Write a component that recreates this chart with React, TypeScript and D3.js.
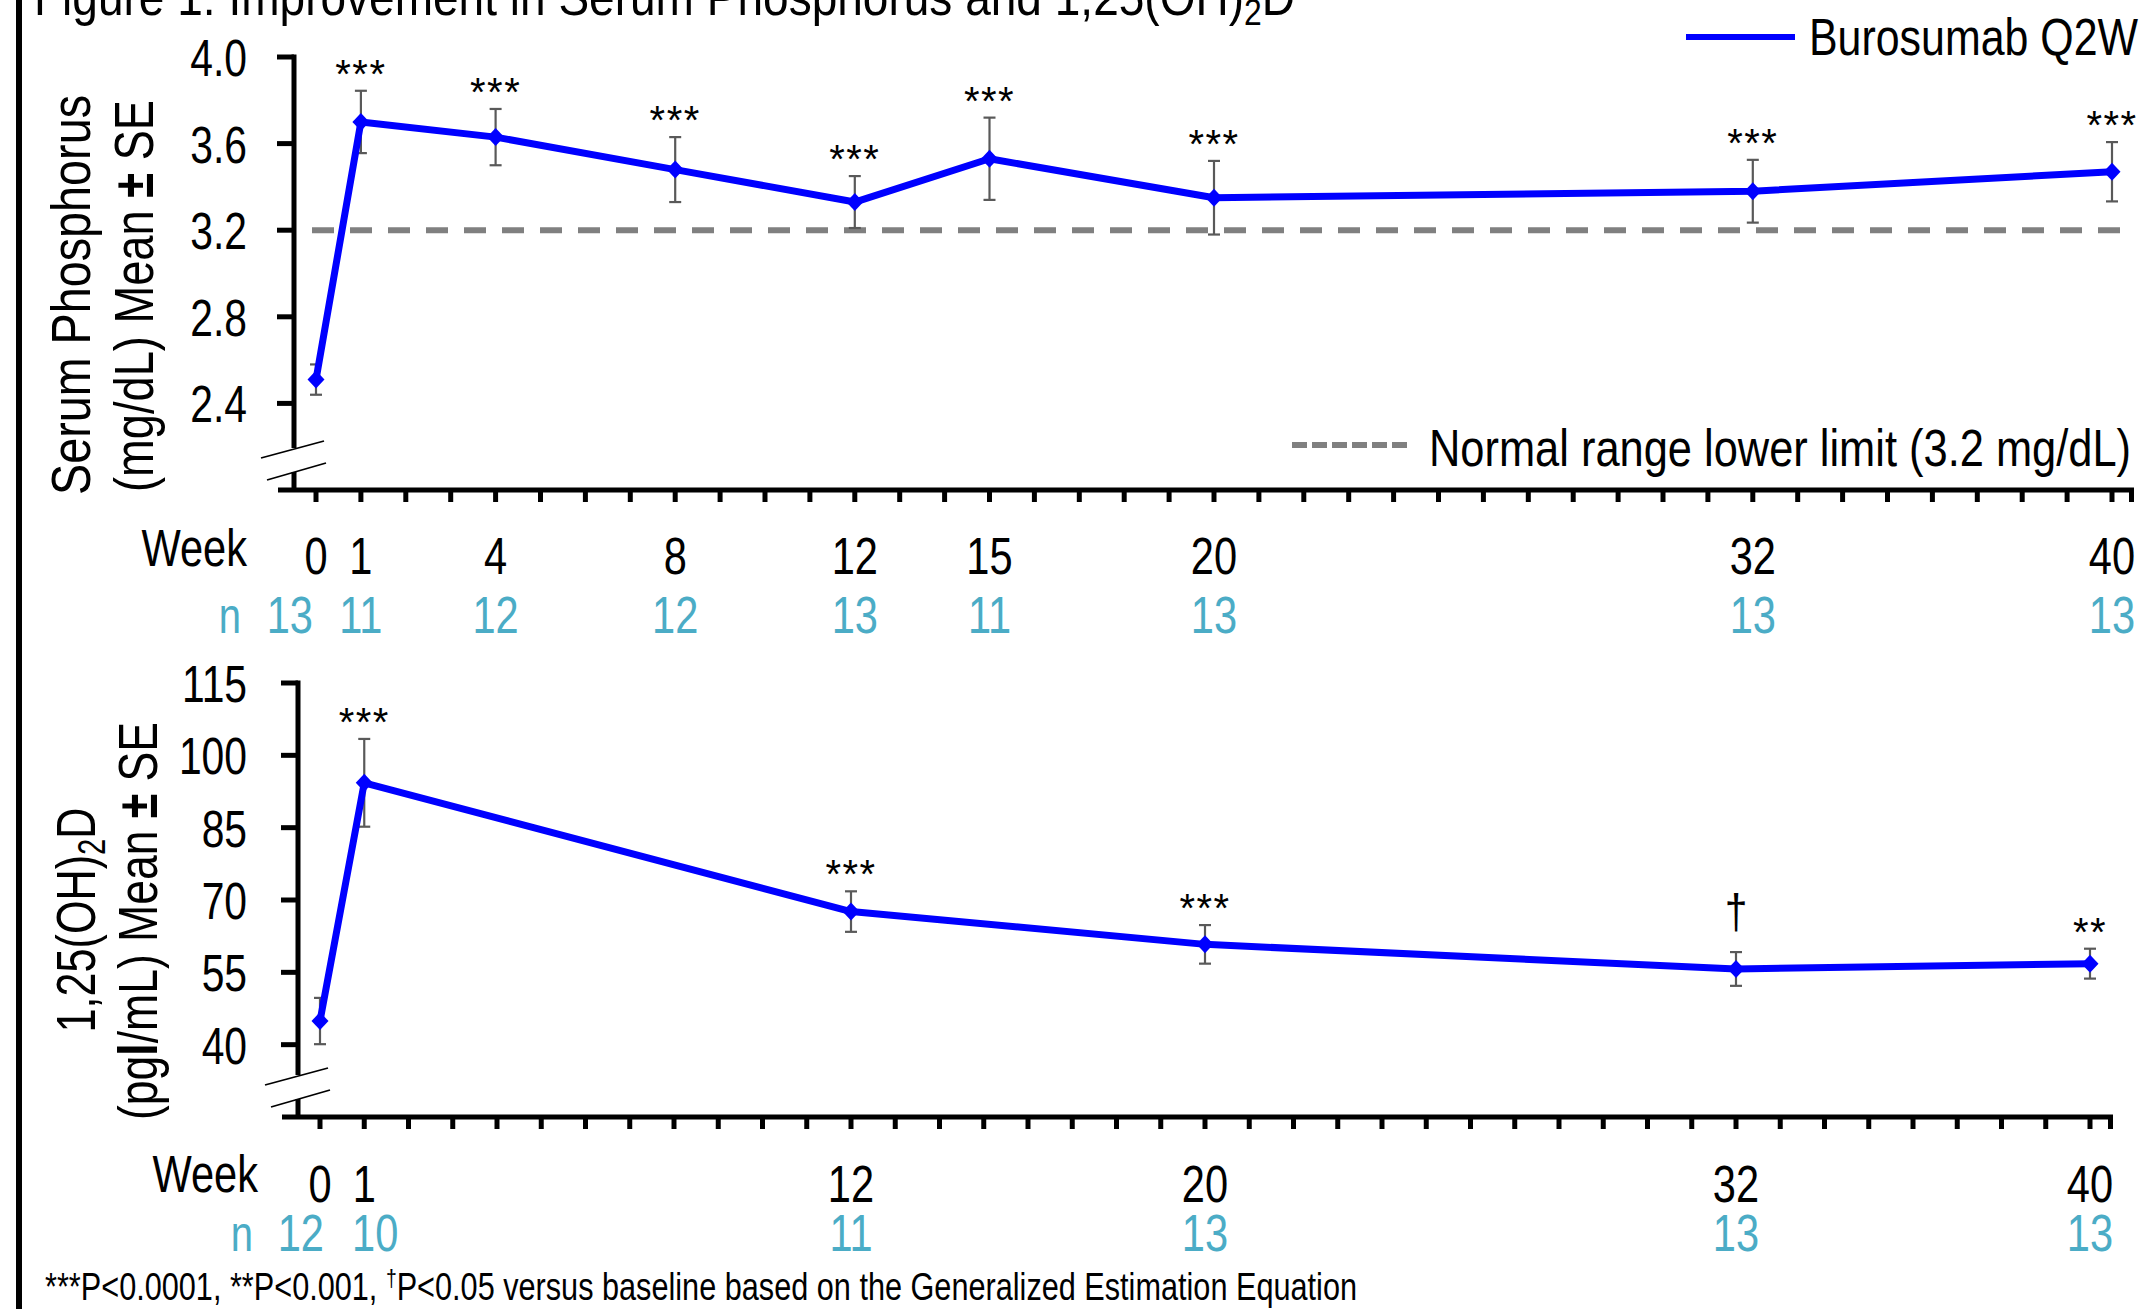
import React from 'react'
import { scaleLinear, line, range } from 'd3'

const W = 2149, H = 1309
const FONT = "'Liberation Sans', Arial, sans-serif"
const SX = 0.8 // narrow look of the original condensed face
const BLUE = '#0000ff'
const CYAN = '#4bacc6'
const REF_GRAY = '#808080'
const ERR_GRAY = '#595959'

// serum phosphorus (mg/dL)
const phosWeeks = [0, 1, 4, 8, 12, 15, 20, 32, 40]
const phosMean = [2.51, 3.70, 3.63, 3.48, 3.33, 3.53, 3.35, 3.38, 3.47]
const phosSE = [0.07, 0.144, 0.13, 0.15, 0.12, 0.19, 0.17, 0.145, 0.137]
const phosSig = ['', '***', '***', '***', '***', '***', '***', '***', '***']
const phosN = [13, 11, 12, 12, 13, 11, 13, 13, 13]
const phosTicks = [2.4, 2.8, 3.2, 3.6, 4.0]
const phosLowerLimit = 3.2

// 1,25(OH)2D (pg/mL)
const vitdWeeks = [0, 1, 12, 20, 32, 40]
const vitdMean = [44.9, 94.3, 67.6, 60.8, 55.7, 56.8]
const vitdSE = [4.8, 9.1, 4.2, 4.0, 3.5, 3.1]
const vitdSig = ['', '***', '***', '***', '†', '**']
const vitdN = [12, 10, 11, 13, 13, 13]
const vitdTicks = [40, 55, 70, 85, 100, 115]

const allWeeks = range(0, 41)

// condensed text helper
function T({ x, y, anchor = 'start', size = 50, fill = '#000', sx = SX, ls = 0, children }: any) {
  return (
    <text transform={`translate(${x},${y}) scale(${sx},1)`} textAnchor={anchor} fontSize={size} fill={fill}
      letterSpacing={ls}>
      {children}
    </text>
  )
}

type PanelProps = {
  id: string
  weeks: number[]
  mean: number[]
  se: number[]
  sig: string[]
  n: number[]
  ticks: number[]
  yDomain: [number, number]
  yRange: [number, number]
  xRange: [number, number]
  axisX: number
  axisEnd: number
  weekY: number
  weekWordY: number
  weekWordX: number
  nY: number
  nWordX: number
  tickFmt: (d: number) => string
  refLine?: number
}

function Panel(p: PanelProps) {
  const x = scaleLinear().domain([0, 40]).range(p.xRange)
  const y = scaleLinear().domain(p.yDomain).range(p.yRange)
  const bottom = p.yRange[0]
  const top = y(p.ticks[p.ticks.length - 1])
  const pts = p.weeks.map((w, i) => [x(w), y(p.mean[i])] as [number, number])
  const path = line()(pts) || ''

  return (
    <g>
      {p.refLine !== undefined && (
        <line x1={p.axisX + 18} x2={p.axisEnd - 8} y1={y(p.refLine)} y2={y(p.refLine)}
          stroke={REF_GRAY} strokeWidth={6} strokeDasharray="22,16" />
      )}

      {/* y axis with break */}
      <line x1={p.axisX} x2={p.axisX} y1={top - 2.5} y2={bottom - 42} stroke="#000" strokeWidth={5} />
      <line x1={p.axisX} x2={p.axisX} y1={bottom - 18} y2={bottom} stroke="#000" strokeWidth={5} />
      <line x1={p.axisX - 33} y1={bottom - 32} x2={p.axisX + 30} y2={bottom - 49} stroke="#000" strokeWidth={1.8} />
      <line x1={p.axisX - 27} y1={bottom - 10} x2={p.axisX + 32} y2={bottom - 27} stroke="#000" strokeWidth={1.8} />
      {p.ticks.map(t => (
        <g key={t}>
          <line x1={p.axisX - 17} x2={p.axisX} y1={y(t)} y2={y(t)} stroke="#000" strokeWidth={5} />
          <T x={247} y={y(t) + 19} anchor="end" size={51}>{p.tickFmt(t)}</T>
        </g>
      ))}

      {/* x axis */}
      <line x1={p.axisX - 16} x2={p.axisEnd} y1={bottom} y2={bottom} stroke="#000" strokeWidth={5} />
      {allWeeks.map(w => (
        <line key={w} x1={x(w)} x2={x(w)} y1={bottom} y2={bottom + 12} stroke="#000" strokeWidth={5} />
      ))}
      <line x1={p.axisEnd - 2.5} x2={p.axisEnd - 2.5} y1={bottom} y2={bottom + 12} stroke="#000" strokeWidth={5} />

      <T x={p.weekWordX} y={p.weekWordY} anchor="end" size={52}>Week</T>
      <T x={p.nWordX} y={p.nY} anchor="end" fill={CYAN}>n</T>
      {p.weeks.map((w, i) => {
        const nx = i === 0 ? x(w) + (p.id === 'phos' ? -3 : 4) : x(w) + (i === 1 && p.id === 'vitd' ? 11 : 0)
        return (
          <g key={w}>
            <T x={x(w)} y={p.weekY} anchor="middle" size={52}>{w}</T>
            <T x={nx} y={p.nY} anchor={i === 0 ? 'end' : 'middle'} fill={CYAN} size={52}>{p.n[i]}</T>
          </g>
        )
      })}

      {/* error bars */}
      {p.weeks.map((w, i) => {
        const cx = x(w)
        const y1 = y(p.mean[i] + p.se[i]), y2 = y(p.mean[i] - p.se[i])
        return (
          <g key={w} stroke={ERR_GRAY} strokeWidth={2.2}>
            <line x1={cx} x2={cx} y1={y1} y2={y2} />
            <line x1={cx - 6} x2={cx + 6} y1={y1} y2={y1} />
            <line x1={cx - 6} x2={cx + 6} y1={y2} y2={y2} />
          </g>
        )
      })}

      <path d={path} fill="none" stroke={BLUE} strokeWidth={7} strokeLinejoin="round" />
      {pts.map(([cx, cy], i) => (
        <path key={i} d={`M${cx},${cy - 9}L${cx + 8.5},${cy}L${cx},${cy + 9}L${cx - 8.5},${cy}Z`} fill={BLUE} />
      ))}

      {/* significance marks */}
      {p.weeks.map((w, i) => {
        const et = y(p.mean[i] + p.se[i])
        const dagger = p.sig[i] === '†'
        return p.sig[i] ? (
          <T key={w} x={x(w)} y={dagger ? et - 24 : et - 3} anchor="middle" sx={dagger ? 0.85 : 1}
            ls={dagger ? 0 : 1.5} size={dagger ? 48 : 40}>{p.sig[i]}</T>
        ) : null
      })}
    </g>
  )
}

export default function App() {
  return (
    <div style={{ position: 'absolute', left: 0, top: 0, background: '#fff' }}>
      <svg width={W} height={H} style={{ display: 'block', fontFamily: FONT }}>
        <rect width={W} height={H} fill="#fff" />
        <line x1={19} x2={19} y1={0} y2={H} stroke="#000" strokeWidth={6} />

        <text x={34} y={15} fontSize={52} textLength={1261} lengthAdjust="spacingAndGlyphs">
          Figure 1: Improvement in Serum Phosphorus and 1,25(OH)<tspan fontSize={36} dy={10}>2</tspan><tspan dy={-10}>D</tspan>
        </text>

        {/* legend */}
        <line x1={1686} x2={1795} y1={37} y2={37} stroke={BLUE} strokeWidth={6} />
        <text x={1809} y={55} fontSize={52} textLength={329} lengthAdjust="spacingAndGlyphs">Burosumab Q2W</text>

        <line x1={1292} x2={1412} y1={445} y2={445} stroke={REF_GRAY} strokeWidth={6} strokeDasharray="15,5" />
        <text x={1429} y={466} fontSize={52} textLength={702} lengthAdjust="spacingAndGlyphs">Normal range lower limit (3.2 mg/dL)</text>

        {/* y titles */}
        <text transform="translate(90,295) rotate(-90)" textAnchor="middle" fontSize={56} textLength={400} lengthAdjust="spacingAndGlyphs">Serum Phosphorus</text>
        <text transform="translate(153,296) rotate(-90)" textAnchor="middle" fontSize={56} textLength={392} lengthAdjust="spacingAndGlyphs">
          (mg/dL) Mean <tspan fontWeight="bold">±</tspan> SE
        </text>
        <text transform="translate(95,920) rotate(-90)" textAnchor="middle" fontSize={56} textLength={225} lengthAdjust="spacingAndGlyphs">
          1,25(OH)<tspan fontSize={38} dy={10}>2</tspan><tspan dy={-10}>D</tspan>
        </text>
        <text transform="translate(157,921) rotate(-90)" textAnchor="middle" fontSize={56} textLength={398} lengthAdjust="spacingAndGlyphs">
          (pg<tspan fontWeight="bold">l</tspan>/mL) Mean <tspan fontWeight="bold">±</tspan> SE
        </text>

        <Panel id="phos" weeks={phosWeeks} mean={phosMean} se={phosSE} sig={phosSig} n={phosN}
          ticks={phosTicks} yDomain={[2.0, 4.0]} yRange={[490, 57]} xRange={[316, 2112]}
          axisX={294} axisEnd={2134} weekY={574} weekWordY={566} weekWordX={247}
          nY={633} nWordX={241} tickFmt={d => d.toFixed(1)} refLine={phosLowerLimit} />

        <Panel id="vitd" weeks={vitdWeeks} mean={vitdMean} se={vitdSE} sig={vitdSig} n={vitdN}
          ticks={vitdTicks} yDomain={[25, 115]} yRange={[1117, 683]} xRange={[320, 2090]}
          axisX={298} axisEnd={2113} weekY={1202} weekWordY={1192} weekWordX={258}
          nY={1251} nWordX={253} tickFmt={d => String(d)} />

        <text x={45} y={1300} fontSize={38} textLength={1312} lengthAdjust="spacingAndGlyphs">
          ***P&lt;0.0001, **P&lt;0.001, <tspan fontSize={24} dy={-14}>†</tspan><tspan dy={14}>P&lt;0.05 versus baseline based on the Generalized Estimation Equation</tspan>
        </text>
      </svg>
    </div>
  )
}
